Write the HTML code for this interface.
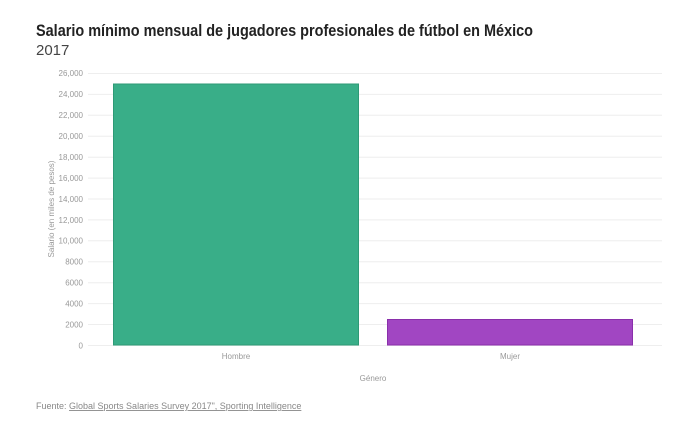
<!DOCTYPE html>
<html><head><meta charset="utf-8"><style>
body{margin:0;width:700px;height:420px;background:#fff;font-family:"Liberation Sans",sans-serif;overflow:hidden}
</style></head><body>
<svg width="700" height="420" xmlns="http://www.w3.org/2000/svg" font-family="Liberation Sans, sans-serif">
<text x="36" y="36" font-size="16.5" font-weight="bold" fill="#222" textLength="497" lengthAdjust="spacingAndGlyphs">Salario mínimo mensual de jugadores profesionales de fútbol en México</text>
<text x="36" y="55" font-size="15" fill="#444">2017</text>
<g stroke="#eee" stroke-width="1">
<line x1="88" x2="662" y1="73.5" y2="73.5"/><line x1="88" x2="662" y1="94.4" y2="94.4"/><line x1="88" x2="662" y1="115.3" y2="115.3"/><line x1="88" x2="662" y1="136.3" y2="136.3"/><line x1="88" x2="662" y1="157.2" y2="157.2"/><line x1="88" x2="662" y1="178.1" y2="178.1"/><line x1="88" x2="662" y1="199" y2="199"/><line x1="88" x2="662" y1="219.9" y2="219.9"/><line x1="88" x2="662" y1="240.8" y2="240.8"/><line x1="88" x2="662" y1="261.7" y2="261.7"/><line x1="88" x2="662" y1="282.7" y2="282.7"/><line x1="88" x2="662" y1="303.6" y2="303.6"/><line x1="88" x2="662" y1="324.5" y2="324.5"/><line x1="88" x2="662" y1="345.5" y2="345.5"/>
</g>
<g font-size="8" fill="#999" text-anchor="end">
<text x="83" y="76">26,000</text><text x="83" y="97">24,000</text><text x="83" y="118">22,000</text><text x="83" y="139">20,000</text><text x="83" y="160">18,000</text><text x="83" y="181">16,000</text><text x="83" y="202">14,000</text><text x="83" y="223">12,000</text><text x="83" y="243.5">10,000</text><text x="83" y="264.5">8000</text><text x="83" y="285.5">6000</text><text x="83" y="306.5">4000</text><text x="83" y="327.5">2000</text><text x="83" y="348.5">0</text>
</g>
<text transform="translate(54,209) rotate(-90)" font-size="8" fill="#999" text-anchor="middle">Salario (en miles de pesos)</text>
<rect x="113.5" y="84" width="245" height="261" fill="#39ae88" stroke="#2e9a76"/>
<rect x="387.5" y="319.5" width="245" height="25.5" fill="#a146c2" stroke="#8a2fab"/>
<g font-size="8" fill="#999" text-anchor="middle">
<text x="236" y="359">Hombre</text><text x="510" y="359">Mujer</text><text x="373" y="381">Género</text>
</g>
<text x="36" y="409" font-size="9" fill="#888">Fuente: <tspan text-decoration="underline">Global Sports Salaries Survey 2017", Sporting Intelligence</tspan></text>
</svg>
</body></html>
